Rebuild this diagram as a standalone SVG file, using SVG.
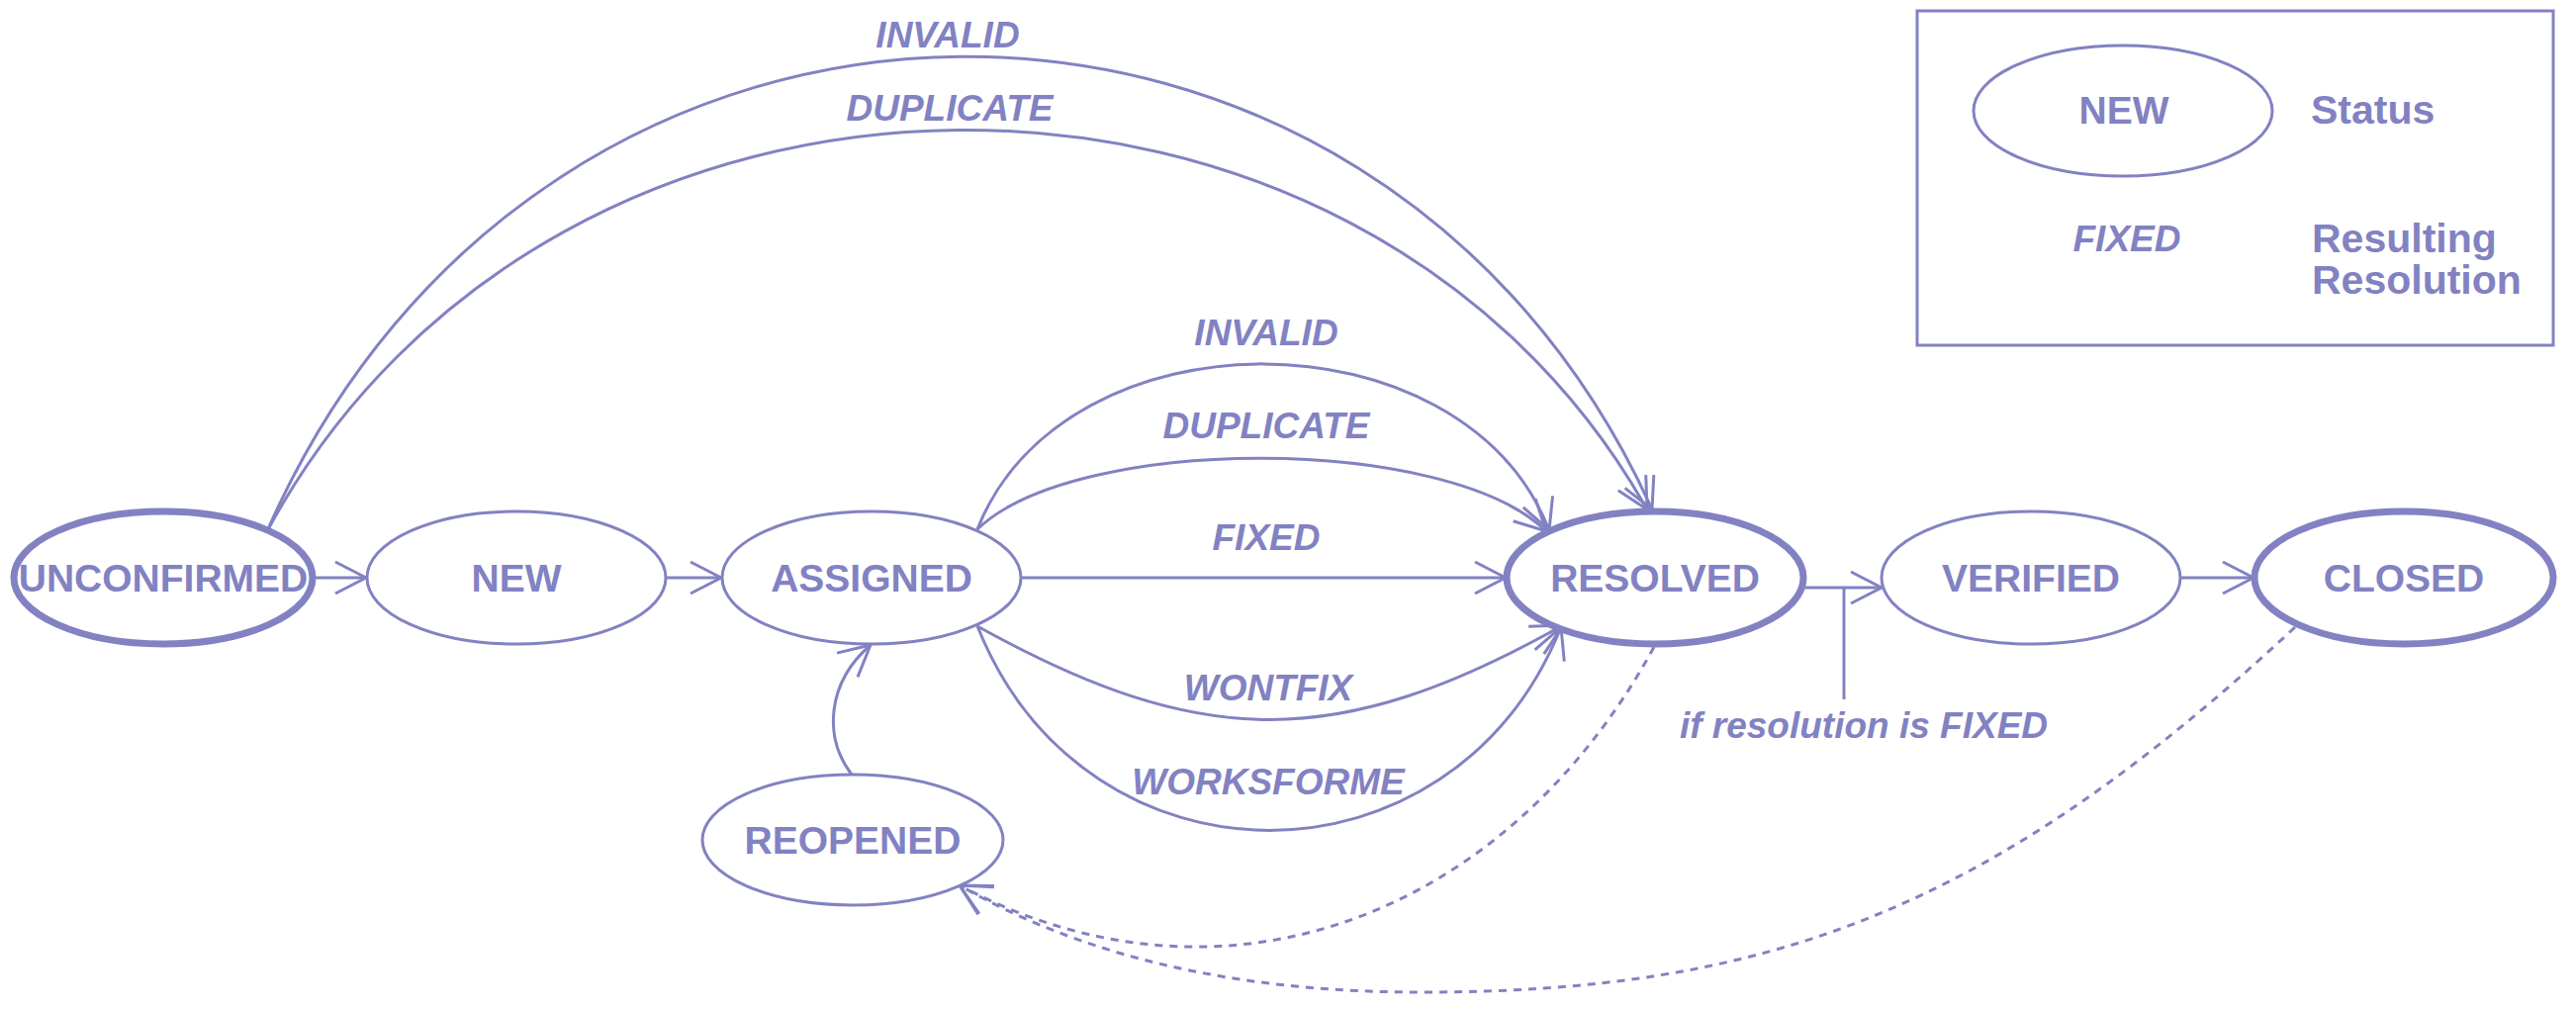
<svg xmlns="http://www.w3.org/2000/svg" width="2604" height="1022" viewBox="0 0 2604 1022">
<style>
  .bg { fill: #ffffff; }
  .node { fill: #ffffff; stroke: #8282c2; stroke-width: 3; }
  .final { stroke-width: 7; }
  .t { font-family: "Liberation Sans", Arial, Helvetica, sans-serif; font-weight: bold; font-size: 37px; fill: #8282c2; text-anchor: middle; }
  .nt { font-size: 39px; }
  .lg { font-size: 41px; }
  .lbl { font-style: italic; }
  .left { text-anchor: start; }
  .edge { fill: none; stroke: #8282c2; stroke-width: 3; }
  .dash { stroke-dasharray: 8 7; }
  .box { fill: none; stroke: #8282c2; stroke-width: 3; }
</style>
<defs>
  <marker id="arrow" markerUnits="userSpaceOnUse" markerWidth="40" markerHeight="40" refX="0" refY="0" orient="auto" overflow="visible">
    <path d="M-31,-16 L0,0 L-31,16" fill="none" stroke="#8282c2" stroke-width="3" stroke-dasharray="none"/>
  </marker>
</defs>
<rect class="bg" x="0" y="0" width="2604" height="1022"/>

<g id="connectors">
  <line class="edge" x1="317" y1="584" x2="370" y2="584" marker-end="url(#arrow)"/>
  <line class="edge" x1="673" y1="584" x2="729" y2="584" marker-end="url(#arrow)"/>
  <path class="edge" d="M270,537 C548,-99 1392,-99 1670,515" marker-end="url(#arrow)"/>
  <path class="edge" d="M270,537 C560,0 1375,0 1665,515" marker-end="url(#arrow)"/>
  <path class="edge" d="M988,535 C1076,312 1478,312 1566,536" marker-end="url(#arrow)"/>
  <path class="edge" d="M988,535 C1088,439 1463,439 1563,537" marker-end="url(#arrow)"/>
  <line class="edge" x1="1032" y1="584" x2="1522" y2="584" marker-end="url(#arrow)"/>
  <path class="edge" d="M988,633 C1215,759 1353,759 1580,632" marker-end="url(#arrow)"/>
  <path class="edge" d="M988,633 C1098,908 1468,908 1578,634" marker-end="url(#arrow)"/>
  <path class="edge" d="M861,783 C832,745 836,690 880,652" marker-end="url(#arrow)"/>
  <line class="edge" x1="1821" y1="594" x2="1902" y2="594" marker-end="url(#arrow)"/>
  <line class="edge" x1="1864" y1="594" x2="1864" y2="707"/>
  <line class="edge" x1="2204" y1="584" x2="2278" y2="584" marker-end="url(#arrow)"/>
  <path class="edge dash" d="M1672,654 C1522,929 1234,1036 970,895" marker-end="url(#arrow)"/>
  <path class="edge dash" d="M2320,634 C2013,920 1787,1003 1437,1003 C1257,1003 1100,970 970,895" marker-end="url(#arrow)"/>

  <text class="t lbl" x="958" y="48">INVALID</text>
  <text class="t lbl" x="960" y="122">DUPLICATE</text>
  <text class="t lbl" x="1280" y="349">INVALID</text>
  <text class="t lbl" x="1280" y="443">DUPLICATE</text>
  <text class="t lbl" x="1280" y="556">FIXED</text>
  <text class="t lbl" x="1282" y="708">WONTFIX</text>
  <text class="t lbl" x="1282" y="803">WORKSFORME</text>
  <text class="t lbl" x="1884" y="746">if resolution is FIXED</text>
</g>

<g id="node-unconfirmed">
  <ellipse class="node final" cx="165" cy="584" rx="151" ry="67"/>
  <text class="t nt" x="165" y="598">UNCONFIRMED</text>
</g>
<g id="node-new">
  <ellipse class="node" cx="522" cy="584" rx="151" ry="67"/>
  <text class="t nt" x="522" y="598">NEW</text>
</g>
<g id="node-assigned">
  <ellipse class="node" cx="881" cy="584" rx="151" ry="67"/>
  <text class="t nt" x="881" y="598">ASSIGNED</text>
</g>
<g id="node-resolved">
  <ellipse class="node final" cx="1673" cy="584" rx="150" ry="67"/>
  <text class="t nt" x="1673" y="598">RESOLVED</text>
</g>
<g id="node-verified">
  <ellipse class="node" cx="2053" cy="584" rx="151" ry="67"/>
  <text class="t nt" x="2053" y="598">VERIFIED</text>
</g>
<g id="node-closed">
  <ellipse class="node final" cx="2430" cy="584" rx="151" ry="67"/>
  <text class="t nt" x="2430" y="598">CLOSED</text>
</g>
<g id="node-reopened">
  <ellipse class="node" cx="862" cy="849" rx="152" ry="66"/>
  <text class="t nt" x="862" y="863">REOPENED</text>
</g>

<g id="legend">
  <rect class="box" x="1938" y="11" width="643" height="338"/>
  <ellipse class="node" cx="2146" cy="112" rx="151" ry="66"/>
  <text class="t nt" x="2147" y="125">NEW</text>
  <text class="t lg left" x="2336" y="125">Status</text>
  <text class="t lbl" x="2150" y="254">FIXED</text>
  <text class="t lg left" x="2337" y="255">Resulting</text>
  <text class="t lg left" x="2337" y="297">Resolution</text>
</g>
</svg>
